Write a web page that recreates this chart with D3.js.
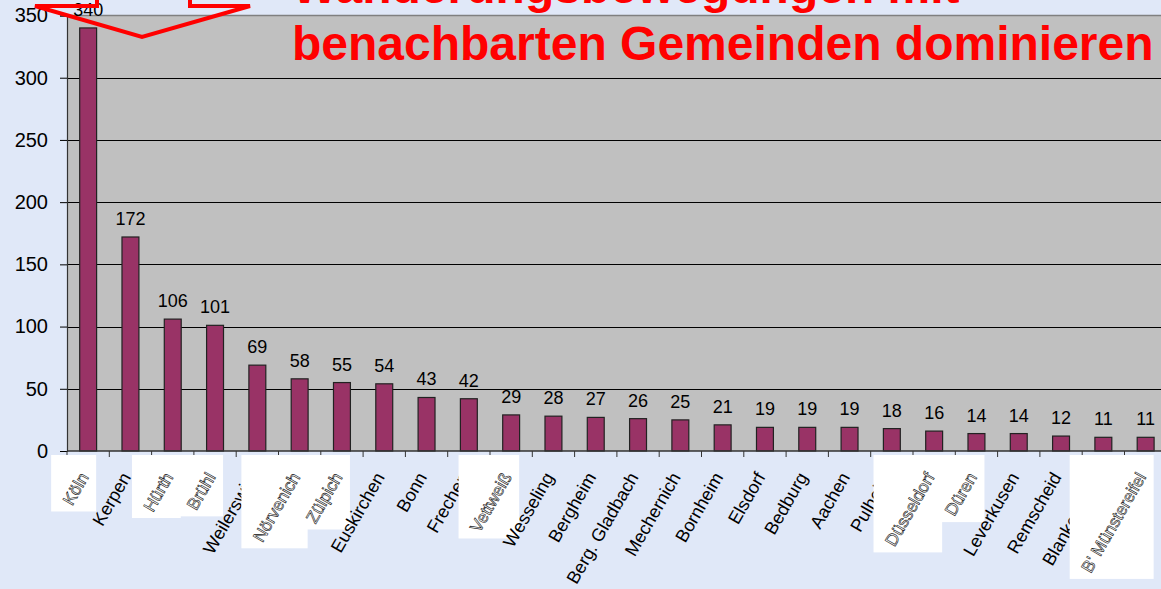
<!DOCTYPE html>
<meta charset="utf-8">
<style>
body { margin: 0; background: #e0e8f8; }
svg { display: block; font-family: "Liberation Sans", Arial, sans-serif; }
.val { font-size: 18px; text-anchor: middle; fill: #000; }
.ytick { font-size: 20px; text-anchor: end; fill: #000; }
.cat { font-size: 18px; text-anchor: end; fill: #000; }
.cat.ghost { fill: #fff; stroke: #111; stroke-width: 0.6px; font-size: 17px; }
.title { font-size: 48px; font-weight: bold; fill: #ff0000; }
</style>
<svg width="1161" height="589"></svg>
<script src="https://d3js.org/d3.v7.min.js"></script>
<script>

var categories = ["Köln", "Kerpen", "Hürth", "Brühl", "Weilerswist", "Nörvenich", "Zülpich",
  "Euskirchen", "Bonn", "Frechen", "Vettweiß", "Wesseling", "Bergheim", "Berg. Gladbach",
  "Mechernich", "Bornheim", "Elsdorf", "Bedburg", "Aachen", "Pulheim", "Düsseldorf", "Düren",
  "Leverkusen", "Remscheid", "Blankenheim", "B' Münstereifel"];
var values = [340, 172, 106, 101, 69, 58, 55, 54, 43, 42, 29, 28, 27, 26, 25, 21, 19, 19, 19,
  18, 16, 14, 14, 12, 11, 11];
// labels pasted over with white boxes on the slide
var boxed = ["Köln", "Hürth", "Brühl", "Nörvenich", "Zülpich", "Vettweiß", "Düsseldorf", "Düren", "B' Münstereifel"];
var yTicks = [0, 50, 100, 150, 200, 250, 300, 350];
var titleLines = ["Wanderungsbewegungen mit", "benachbarten Gemeinden dominieren"];

var svg = d3.select("svg"),
    width = +svg.attr("width"),
    height = +svg.attr("height");

var plotLeft = 67, plotTop = 15.5, plotBottom = 451, step = 42.3;

var x = d3.scaleBand()
    .domain(categories)
    .range([plotLeft, plotLeft + step * categories.length]);

var y = d3.scaleLinear()
    .domain([0, 350])
    .range([plotBottom, plotTop]);

var barW = x.bandwidth() * 0.4;

// plot area
svg.append("rect")
    .attr("x", plotLeft).attr("y", plotTop)
    .attr("width", width - plotLeft).attr("height", plotBottom - plotTop)
    .attr("fill", "#c0c0c0");
svg.append("line")
    .attr("x1", plotLeft).attr("x2", width)
    .attr("y1", plotTop).attr("y2", plotTop)
    .attr("stroke", "#808080").attr("stroke-width", 1.5);

// gridlines
svg.selectAll(".grid")
  .data(yTicks.filter(function(d) { return d > 0 && d < 350; }))
  .enter().append("line")
    .attr("x1", plotLeft).attr("x2", width)
    .attr("y1", function(d) { return Math.round(y(d)) + 0.5; })
    .attr("y2", function(d) { return Math.round(y(d)) + 0.5; })
    .attr("stroke", "#000");

// y axis
var yAxis = svg.append("g")
    .attr("transform", "translate(" + plotLeft + ",0)")
    .call(d3.axisLeft(y).tickValues(yTicks).tickSize(7).tickPadding(12));
yAxis.select(".domain").attr("stroke", "#333").attr("stroke-width", 1.2);
yAxis.selectAll(".tick line").attr("stroke", "#000");
yAxis.selectAll(".tick text").attr("class", "ytick").attr("font-size", null).attr("font-family", null);

// bars
svg.selectAll(".bar")
  .data(values)
  .enter().append("rect")
    .attr("x", function(d, i) { return x(categories[i]) + (x.bandwidth() - barW) / 2; })
    .attr("y", function(d) { return y(d); })
    .attr("width", barW)
    .attr("height", function(d) { return plotBottom - y(d); })
    .attr("fill", "#993366")
    .attr("stroke", "#222")
    .attr("stroke-width", 1.2);

// value labels
svg.selectAll(".val")
  .data(values)
  .enter().append("text")
    .attr("class", "val")
    .attr("x", function(d, i) { return x(categories[i]) + x.bandwidth() / 2; })
    .attr("y", function(d) { return y(d) - 12; })
    .text(function(d) { return d; });

// x axis line and ticks
svg.append("line")
    .attr("x1", plotLeft).attr("x2", width)
    .attr("y1", plotBottom).attr("y2", plotBottom)
    .attr("stroke", "#333").attr("stroke-width", 1.5);
svg.selectAll(".xtick")
  .data(categories)
  .enter().append("line")
    .attr("x1", function(d) { return x(d); })
    .attr("x2", function(d) { return x(d); })
    .attr("y1", plotBottom).attr("y2", plotBottom + 6)
    .attr("stroke", "#333");

// category labels, in order, so each white box hides the label before it
var catLayer = svg.append("g"),
    ghostLayer = svg.append("g");

categories.forEach(function(d) {
  var g = catLayer.append("g");
  var isBoxed = boxed.indexOf(d) >= 0;
  var cx = x(d) + x.bandwidth() / 2;
  var pos = "translate(" + (cx + 1) + "," + (plotBottom + 26) + ") rotate(-60)";
  if (!isBoxed) {
    g.append("text").attr("class", "cat").attr("transform", pos).text(d);
    return;
  }
  var box = g.append("rect").attr("fill", "#fff");
  var t = ghostLayer.append("text").attr("class", "cat ghost").attr("transform", pos).text(d);
  var b = t.node().getBoundingClientRect();
  var x0 = Math.min(b.left - 8, cx - 34);
  box.attr("x", x0)
      .attr("y", plotBottom + 4)
      .attr("width", cx + 8 - x0)
      .attr("height", b.bottom + 3 - (plotBottom + 4));
});

// title
svg.selectAll(".title")
  .data(titleLines)
  .enter().append("text")
    .attr("class", "title")
    .attr("x", 292)
    .attr("y", function(d, i) { return 3 + i * 57; })
    .text(function(d) { return d; });

// callout outline
svg.append("path")
    .attr("d", "M97,0V6H35L142,37L250,6H190V0")
    .attr("fill", "none")
    .attr("stroke", "#ff0000")
    .attr("stroke-width", 4)
    .attr("stroke-linejoin", "miter");

</script>
